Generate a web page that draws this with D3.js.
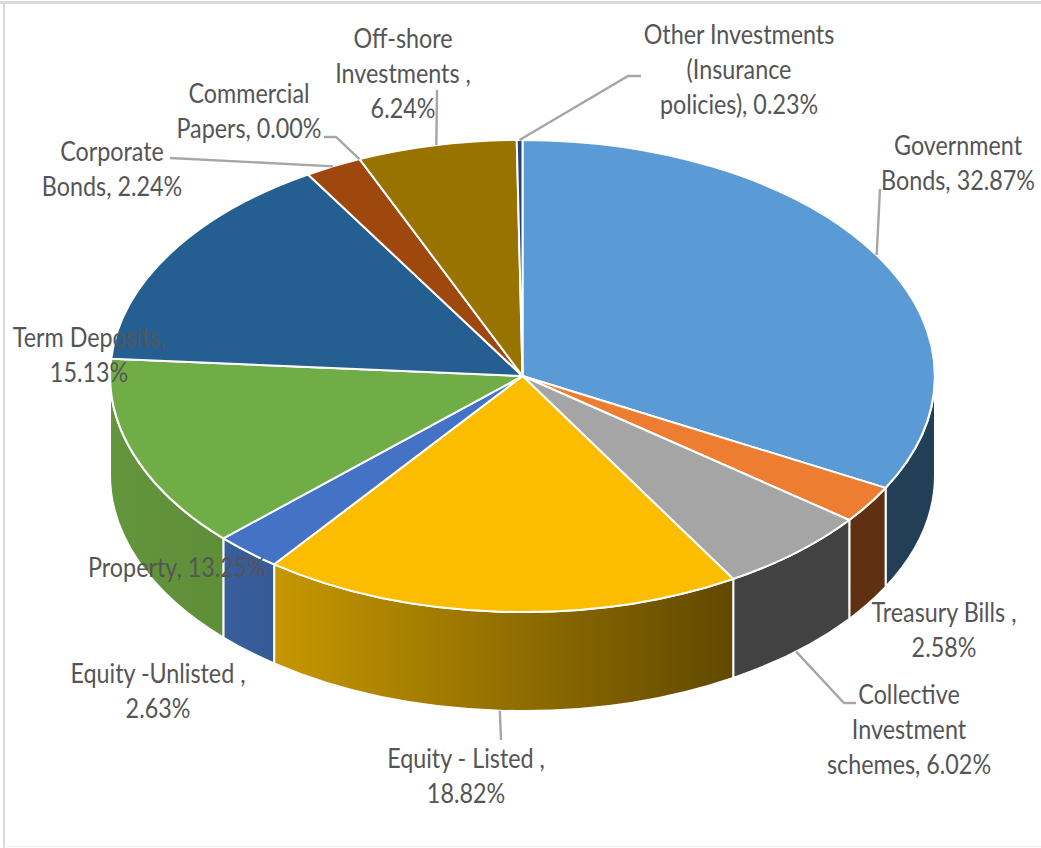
<!DOCTYPE html>
<html>
<head>
<meta charset="utf-8">
<script src="https://d3js.org/d3.v7.min.js"></script>
<style>
html, body { margin: 0; padding: 0; background: #fff; }
svg { display: block; }
text { font-family: Lato, "Open Sans", sans-serif; fill: #555; }
</style>
</head>
<body>
<svg id="chart" width="1041" height="848"></svg>
<script>
// Portfolio composition, percentage of total assets
const categories = [
  "Government Bonds", "Treasury Bills", "Collective Investment schemes",
  "Equity - Listed", "Equity - Unlisted", "Property", "Term Deposits",
  "Corporate Bonds", "Commercial Papers", "Off-shore Investments",
  "Other Investments (Insurance policies)"
];
const shares = [32.87, 2.58, 6.02, 18.82, 2.63, 13.25, 15.13, 2.24, 0.00, 6.24, 0.23];

// Label text; the last line is completed with the formatted share
const labelLines = [
  ["Government", "Bonds, "],
  ["Treasury Bills ,", ""],
  ["Collective", "Investment", "schemes, "],
  ["Equity - Listed ,", ""],
  ["Equity -Unlisted ,", ""],
  ["Property, "],
  ["Term Deposits,", ""],
  ["Corporate", "Bonds, "],
  ["Commercial", "Papers, "],
  ["Off-shore", "Investments ,", ""],
  ["Other Investments", "(Insurance", "policies), "]
];

// Slice fills: top face, then the side wall's left and right gradient stops
const topColors = ["#5b9bd5", "#ed7d31", "#a5a5a5", "#fcbd00", "#4472c4", "#70ad47", "#255e91", "#9e480e", "#636363", "#997300", "#264478"];
const wallLeft = ["#233f57", "#5f3112", "#424242", "#c69700", "#385e9c", "#63953d", "#255e91", "#9e480e", "#636363", "#997300", "#264478"];
const wallRight = ["#233f57", "#5f3112", "#424242", "#614900", "#355a96", "#5e8f38", "#255e91", "#9e480e", "#636363", "#997300", "#264478"];

// Label anchors (centre x, centre y of the first line) and leader elbows
const labelAnchors = [[958, 146], [944, 613], [909, 695], [466, 759], [158, 674], [177, 568], [89, 338], [112, 152], [249, 94], [403, 39], [739, 35]];
const leaderElbows = [
  [[880, 189]], null, [[844, 703], [856, 703]], [[501, 740]], null, null, null,
  [[170, 158]], [[336, 137], [324, 137]], [[437, 90]], [[628, 76], [641, 76]]
];

const cx = 522.5, cy = 376, rx = 412.5, ry = 236, depth = 99;
const lineHeight = 35, fontSize = 26.5, squeeze = 0.88;

const svg = d3.select("#chart");
const px = d3.scaleLinear().domain([-1, 1]).range([cx - rx, cx + rx]);
const py = d3.scaleLinear().domain([-1, 1]).range([cy - ry, cy + ry]);
const edge = (a, drop = 0) => [px(Math.sin(a)), py(-Math.cos(a)) + drop];

const slices = d3.pie().sort(null).value(d => d)(shares);

// Frame around the chart area
const frame = svg.append("g").attr("fill", "#d9d9d9");
frame.append("rect").attr("x", 0).attr("y", 1).attr("width", 1041).attr("height", 3);
frame.append("rect").attr("x", 3).attr("y", 1).attr("width", 2).attr("height", 847);
frame.append("rect").attr("x", 3).attr("y", 846).attr("width", 1038).attr("height", 1).attr("fill", "#f0f0f0");

// Side wall gradients
const defs = svg.append("defs");
slices.forEach((s, i) => {
  const g = defs.append("linearGradient").attr("id", "wall" + i)
    .attr("x1", 0).attr("x2", 1).attr("y1", 0).attr("y2", 0);
  g.append("stop").attr("offset", 0).attr("stop-color", wallLeft[i]);
  g.append("stop").attr("offset", 1).attr("stop-color", wallRight[i]);
});

// Side walls: only the part of the rim between 90 and 270 degrees faces the viewer
const front = [Math.PI / 2, 3 * Math.PI / 2];
const wallPath = (a0, a1) => {
  const [x0, y0] = edge(a0), [x1, y1] = edge(a1);
  const [x2, y2] = edge(a1, depth), [x3, y3] = edge(a0, depth);
  return `M${x0},${y0}A${rx},${ry} 0 0 1 ${x1},${y1}L${x2},${y2}A${rx},${ry} 0 0 0 ${x3},${y3}Z`;
};
svg.append("g").selectAll("path")
  .data(slices.filter(s => s.value > 0 && s.endAngle > front[0] && s.startAngle < front[1]))
  .join("path")
  .attr("d", s => wallPath(Math.max(s.startAngle, front[0]), Math.min(s.endAngle, front[1])))
  .attr("fill", s => `url(#wall${s.index})`)
  .attr("stroke", "#fff").attr("stroke-width", 2).attr("stroke-linejoin", "round");

// Top faces: unit-circle arcs stretched onto the tilted ellipse
const arc = d3.arc().innerRadius(0).outerRadius(1);
svg.append("g")
  .attr("transform", `translate(${cx},${cy}) scale(${rx},${ry})`)
  .selectAll("path")
  .data(slices.filter(s => s.value > 0))
  .join("path")
  .attr("d", arc)
  .attr("fill", s => topColors[s.index])
  .attr("stroke", "#fff").attr("stroke-width", 2)
  .attr("stroke-linejoin", "round")
  .attr("vector-effect", "non-scaling-stroke");

// Leader lines start on the rim at each slice's mid angle
const leader = d3.line();
svg.append("g").selectAll("path")
  .data(slices.filter(s => leaderElbows[s.index]))
  .join("path")
  .attr("d", s => {
    const mid = (s.startAngle + s.endAngle) / 2;
    const facing = mid > front[0] && mid < front[1];
    return leader([edge(mid, facing ? depth : 0), ...leaderElbows[s.index]]);
  })
  .attr("fill", "none").attr("stroke", "#a6a6a6").attr("stroke-width", 2.4);

// Data labels
const pct = d => d3.format(".2f")(d) + "%";
const labels = svg.append("g").selectAll("g")
  .data(slices)
  .join("g")
  .attr("transform", s => `translate(${labelAnchors[s.index][0]},${labelAnchors[s.index][1]}) scale(${squeeze},1)`);
labels.selectAll("text")
  .data(s => labelLines[s.index].map((t, j, all) => j === all.length - 1 ? t + pct(s.value) : t))
  .join("text")
  .attr("text-anchor", "middle")
  .attr("y", (d, j) => j * lineHeight + 9)
  .attr("font-size", fontSize)
  .text(d => d);
</script>
</body>
</html>
